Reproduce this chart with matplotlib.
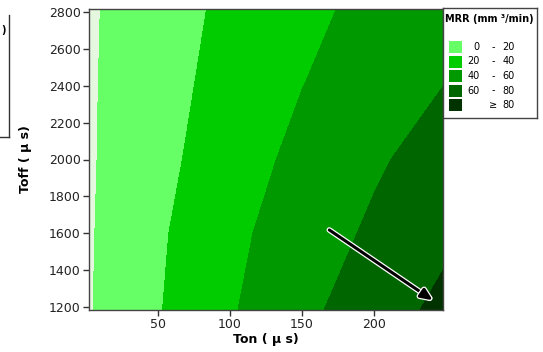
import numpy as np
import matplotlib
matplotlib.use("Agg")
import matplotlib.pyplot as plt
import matplotlib.patheffects as pe
from matplotlib.patches import Rectangle

# Data (MRR estimates on a coarse grid)
ton = [2, 50, 100, 150, 200, 248]
toff = [1184, 1600, 2000, 2400, 2816]
mrr = [
    [-1.2, 18.8, 38.1, 55.3, 70.6, 84.7],
    [-1.6, 17.3, 35.4, 49.9, 63.1, 75.6],
    [-1.9, 14.5, 30.8, 45.1, 57.3, 68.3],
    [-2.0, 12.9, 27.0, 39.7, 50.1, 59.9],
    [-2.2, 11.3, 24.2, 35.6, 44.8, 53.0],
]
levels = [-50, 0, 20, 40, 60, 80, 200]
fill_colors = ["#e6f7e0", "#66ff66", "#00cc00", "#009900", "#006600", "#003300"]
legend_lo = ["0", "20", "40", "60", ""]
legend_hi = ["20", "40", "60", "80", "80"]
legend_sep = ["-", "-", "-", "-", "\u2265"]
xticks = [50, 100, 150, 200]
yticks = [1200, 1400, 1600, 1800, 2000, 2200, 2400, 2600, 2800]
arrow_start = (169, 1618)
arrow_end = (241, 1236)

fig = plt.figure(figsize=(5.43, 3.52), dpi=100)
ax = fig.add_axes([89/543, 1-310/352, (443-89)/543, (310-9)/352])
X, Y = np.meshgrid(ton, toff)
ax.contourf(X, Y, np.array(mrr), levels=levels, colors=fill_colors)
ax.set_xlim(2, 248)
ax.set_ylim(1184, 2816)
ax.set_xticks(xticks)
ax.set_yticks(yticks)
ax.tick_params(direction="out", length=4, width=1, labelsize=9, colors="#333333",
               labelcolor="#222222", pad=2)
for s in ax.spines.values():
    s.set_color("#444444")
    s.set_linewidth(1)
ax.set_xlabel("Ton ( \u03bc s)", fontsize=9, fontweight="bold", labelpad=1)
ax.set_ylabel("Toff ( \u03bc s)", fontsize=9, fontweight="bold", labelpad=12)

# arrow with white halo
ann = ax.annotate("", xy=arrow_end, xytext=arrow_start,
                  arrowprops=dict(arrowstyle="-|>,head_length=0.7,head_width=0.3",
                                  color="black", lw=2.2, shrinkA=0, shrinkB=0))
ann.arrow_patch.set_path_effects([pe.Stroke(linewidth=4, foreground="white"), pe.Normal()])

# legend box
lax = fig.add_axes([443/543, 1-118/352, (537-443)/543, (118-8)/352])
lax.set_xlim(0, 94)
lax.set_ylim(110, 0)
lax.set_xticks([])
lax.set_yticks([])
for s in lax.spines.values():
    s.set_color("#444444")
    s.set_linewidth(1)
lax.text(2, 11, "MRR (mm \u00b3/min)", fontsize=7, fontweight="bold", va="center", ha="left")
for i, c in enumerate(fill_colors[1:]):
    yc = 39 + i * 14.5
    lax.add_patch(Rectangle((6, yc - 6), 13, 12, facecolor=c, edgecolor="none"))
    lax.text(37, yc, legend_lo[i], fontsize=7, ha="right", va="center")
    lax.text(50, yc, legend_sep[i], fontsize=7, ha="center", va="center")
    lax.text(72, yc, legend_hi[i], fontsize=7, ha="right", va="center")

# cropped bracket remnants on the left edge
fig.add_artist(plt.Line2D([9/543, 9/543], [1-15/352, 1-137/352], color="#333333", lw=1))
fig.add_artist(plt.Line2D([0, 9/543], [1-137/352, 1-137/352], color="#333333", lw=1))
fig.text(0.002, 1-30/352, ")", fontsize=7, fontweight="bold", va="center")

fig.savefig("out.png", dpi=100)
